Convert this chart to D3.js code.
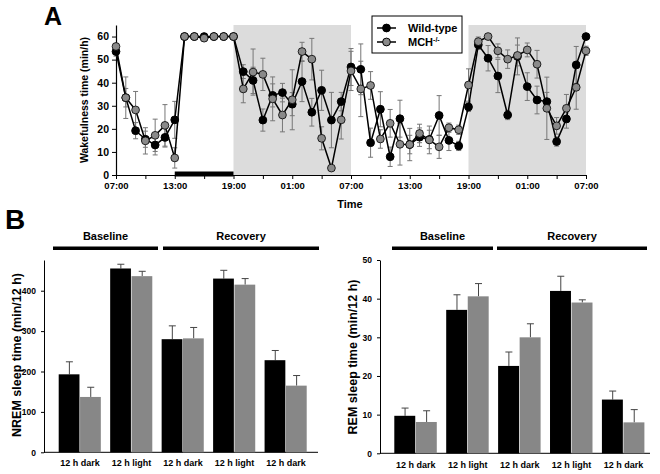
<!DOCTYPE html>
<html><head><meta charset="utf-8">
<script src="https://cdn.jsdelivr.net/npm/d3@7"></script>
<style>
body{margin:0;background:#fff}
svg{display:block}
text{font-family:"Liberation Sans",Arial,Helvetica,sans-serif;font-weight:bold;fill:#000}
</style>
</head><body>
<svg id="chart" width="660" height="474"></svg>
<script>
// ---------- Panel A data (hourly, 48 h from 07:00) ----------
const hours = d3.range(49);
const timeLabels = ["07:00","13:00","19:00","01:00","07:00","13:00","19:00","01:00","07:00"];
const wildType = [53.5,33.5,19.2,15.5,13.0,16.3,23.9,60,60,60,60,60,60,
  44.8,41.0,23.8,34.5,35.7,30.7,40.5,27.2,36.7,23.8,31.8,46.8,45.8,14.0,28.5,7.9,24.4,13.2,16.4,15.4,25.8,15.0,12.6,
  29.5,56.4,50.6,42.9,26.0,51.4,38.3,32.5,31.8,14.5,24.3,47.7,60];
const wildTypeErr = [2,4,3.5,3.5,4.3,4.2,8,0,0,0,0,0,0,
  3,5.7,4.8,5,4,5,8.7,6,8.7,12,4,8,11,6.3,7.6,4.2,8,4,4,4,8.6,4.4,2,
  2,2,5.5,7.2,2,8,6,6,4,2,4,8,1];
const mch = [55.7,33.5,28.2,14.8,17.2,21.5,7.4,60,60,59.3,60,60,60,
  37.3,44.6,43.6,33.0,26.0,32.6,53.5,50.2,15.9,3.0,23.9,45.1,37.3,38.8,15.6,22.4,13.3,13.2,18.0,15.2,12.2,20.5,19.6,
  39.0,57.8,60.0,53.8,50.2,51.8,54.2,48.0,28.9,21.3,28.9,38.0,53.8];
const mchErr = [1,9,8,5.7,7,9,4.4,0,0,0,0,0,0,
  6,10,7,9.5,7.3,13,4,9,5,1,8.3,8.5,12,6,4,6,9,7,4,6,5,2,2,
  7,2,1,3,4,4.5,3,6,13.5,3.6,6,9.5,2];
const darkPeriods = [[12,24],[36,48]];
const deprivation = [6,12];
const seriesNames = ["Wild-type","MCH"];

// ---------- Panel B data ----------
const conditions = ["12 h dark","12 h light","12 h dark","12 h light","12 h dark"];
const nremWT = [193,455,280,430,228];
const nremWTErr = [31,10.5,33,20.5,24];
const nremMCH = [137,436,282,415,165];
const nremMCHErr = [24,12,27,15,25];
const remWT = [9.7,37.1,22.6,42.0,13.9];
const remWTErr = [2.0,3.9,3.6,3.8,2.2];
const remMCH = [8.1,40.6,30.0,39.0,8.0];
const remMCHErr = [2.9,3.3,3.5,0.7,3.3];

const svg = d3.select("#chart");
const BLACK = "#000", GRAY = "#8a8a8a";

// ================= Panel A =================
const x = d3.scaleLinear().domain([0,48]).range([116,586]);
const y = d3.scaleLinear().domain([0,65]).range([175,25]);
const gA = svg.append("g");

gA.selectAll("rect.shade").data(darkPeriods).join("rect")
  .attr("x", d => x(d[0])).attr("width", d => x(d[1]) - x(d[0]))
  .attr("y", y(65)).attr("height", y(0) - y(65)).attr("fill", "#dcdcdc");

// y axis
const yAx = gA.append("g").attr("transform", `translate(${x(0)},0)`)
  .call(d3.axisLeft(y).tickValues([0,10,20,30,40,50,60]).tickSize(4).tickSizeOuter(0).tickPadding(3));
yAx.selectAll("text").style("font-size","10.5px");
// x axis
const xAx = gA.append("g").attr("transform", `translate(0,${y(0)})`)
  .call(d3.axisBottom(x).tickValues(d3.range(0,49,3)).tickSize(4).tickSizeOuter(0).tickPadding(3)
    .tickFormat(d => d % 6 === 0 ? timeLabels[d/6] : ""));
xAx.selectAll("text").style("font-size","9.5px");
[yAx,xAx].forEach(a => { a.select(".domain").attr("stroke","#000").attr("stroke-width",1.2); a.selectAll(".tick line").attr("stroke","#000"); });

// deprivation bar
gA.append("rect").attr("x", x(deprivation[0])).attr("width", x(deprivation[1]) - x(deprivation[0]))
  .attr("y", y(0) - 3.5).attr("height", 5).attr("fill", "#000");

// error bars
function errBars(g, vals, errs){
  const eg = g.append("g").attr("stroke","#777").attr("stroke-width",1);
  vals.forEach((v,i) => {
    const e = errs[i]; if (!e) return;
    const cx = x(hours[i]);
    eg.append("line").attr("x1",cx).attr("x2",cx).attr("y1",y(v-e)).attr("y2",y(v+e));
    eg.append("line").attr("x1",cx-2.5).attr("x2",cx+2.5).attr("y1",y(v+e)).attr("y2",y(v+e));
    eg.append("line").attr("x1",cx-2.5).attr("x2",cx+2.5).attr("y1",y(v-e)).attr("y2",y(v-e));
  });
}
errBars(gA, wildType, wildTypeErr);
errBars(gA, mch, mchErr);

const line = d3.line().x((d,i) => x(hours[i])).y(d => y(d));
gA.append("path").datum(wildType).attr("d", line).attr("fill","none").attr("stroke","#000").attr("stroke-width",1.5);
gA.append("path").datum(mch).attr("d", line).attr("fill","none").attr("stroke","#000").attr("stroke-width",1.5);
gA.append("g").selectAll("circle").data(wildType).join("circle")
  .attr("cx",(d,i)=>x(hours[i])).attr("cy",d=>y(d)).attr("r",3.9).attr("fill",BLACK).attr("stroke","#000");
gA.append("g").selectAll("circle").data(mch).join("circle")
  .attr("cx",(d,i)=>x(hours[i])).attr("cy",d=>y(d)).attr("r",3.9).attr("fill",GRAY).attr("stroke","#000").attr("stroke-width",0.8);

// titles
gA.append("text").attr("transform", `translate(88,${(y(0)+y(65))/2}) rotate(-90)`)
  .attr("text-anchor","middle").style("font-size","10.5px").text("Wakefulness time (min/h)");
gA.append("text").attr("x", 350).attr("y", 208).attr("text-anchor","middle").style("font-size","11px").text("Time");
svg.append("text").attr("x", 44).attr("y", 25).style("font-size","25px").text("A");

// legend
const lg = gA.append("g");
lg.append("rect").attr("x",372).attr("y",16).attr("width",90).attr("height",37).attr("fill","#fff").attr("stroke","#000");
[[seriesNames[0], BLACK, 28],[seriesNames[1], GRAY, 42]].forEach(([nm,c,ly],k) => {
  lg.append("line").attr("x1",377).attr("x2",396).attr("y1",ly).attr("y2",ly).attr("stroke","#000").attr("stroke-width",1.5);
  lg.append("circle").attr("cx",386.5).attr("cy",ly).attr("r",3.9).attr("fill",c).attr("stroke","#000");
  const t = lg.append("text").attr("x",408).attr("y",ly+4).style("font-size","11px").text(nm);
  if (k === 1) t.append("tspan").attr("dy",-4).style("font-size","7px").text("-/-");
});

// ================= Panel B =================
svg.append("text").attr("x", 5).attr("y", 229).style("font-size","28px").text("B");

function barPanel(opts){
  const g = svg.append("g");
  const xb = d3.scaleBand().domain(d3.range(conditions.length)).range(opts.bandRange).paddingInner(0.17);
  const xs = d3.scaleBand().domain([0,1]).range([0, xb.bandwidth()]);
  const yb = d3.scaleLinear().domain(opts.yDomain).range([opts.y0, 260]);
  const ya = g.append("g").attr("transform",`translate(${opts.axisX},0)`)
    .call(d3.axisLeft(yb).tickValues(opts.ticks).tickSize(3).tickSizeOuter(0).tickPadding(5));
  ya.selectAll("text").style("font-size","8.5px");
  ya.select(".domain").attr("stroke","#000");
  g.append("line").attr("x1",opts.axisX).attr("x2",opts.axisEnd).attr("y1",yb(0)).attr("y2",yb(0)).attr("stroke","#000");
  const series = [[opts.wt, opts.wtErr, BLACK],[opts.mch, opts.mchErr, "#878787"]];
  series.forEach(([vals, errs, col], s) => {
    vals.forEach((v,i) => {
      const bx = xb(i) + xs(s), bw = xs.bandwidth();
      const cx = bx + bw/2;
      g.append("line").attr("x1",cx).attr("x2",cx).attr("y1",yb(v)).attr("y2",yb(v+errs[i])).attr("stroke","#444");
      g.append("line").attr("x1",cx-3.5).attr("x2",cx+3.5).attr("y1",yb(v+errs[i])).attr("y2",yb(v+errs[i])).attr("stroke","#444");
      g.append("rect").attr("x",bx).attr("width",bw-0.6).attr("y",yb(v)).attr("height",yb(0)-yb(v)).attr("fill",col);
    });
  });
  conditions.forEach((c,i) => {
    g.append("text").attr("x", xb(i)+xb.bandwidth()/2).attr("y", opts.labelY).attr("text-anchor","middle")
      .style("font-size","9px").text(c);
  });
  opts.groups.forEach(gr => {
    g.append("text").attr("x",(gr.x1+gr.x2)/2).attr("y",240).attr("text-anchor","middle").style("font-size","11px").text(gr.name);
    g.append("rect").attr("x",gr.x1).attr("width",gr.x2-gr.x1).attr("y",246.5).attr("height",3.5).attr("fill","#000");
  });
  g.append("text").attr("transform",`translate(${opts.titleX},${opts.titleY}) rotate(-90)`)
    .attr("text-anchor","middle").style("font-size","12.5px").text(opts.title);
}

barPanel({bandRange:[58.7,307.3], yDomain:[0,476], y0:452.3, axisX:44, axisEnd:318,
  ticks:[0,100,200,300,400], wt:nremWT, wtErr:nremWTErr, mch:nremMCH, mchErr:nremMCHErr,
  labelY:466, groups:[{name:"Baseline",x1:53,x2:158},{name:"Recovery",x1:163,x2:319}],
  title:"NREM sleep time (min/12 h)", titleX:21, titleY:355});
barPanel({bandRange:[394.3,645], yDomain:[0,50], y0:453.3, axisX:380, axisEnd:650,
  ticks:[0,10,20,30,40,50], wt:remWT, wtErr:remWTErr, mch:remMCH, mchErr:remMCHErr,
  labelY:468, groups:[{name:"Baseline",x1:392,x2:493},{name:"Recovery",x1:497,x2:647}],
  title:"REM sleep time (min/12 h)", titleX:357, titleY:357});
</script>
</body></html>
